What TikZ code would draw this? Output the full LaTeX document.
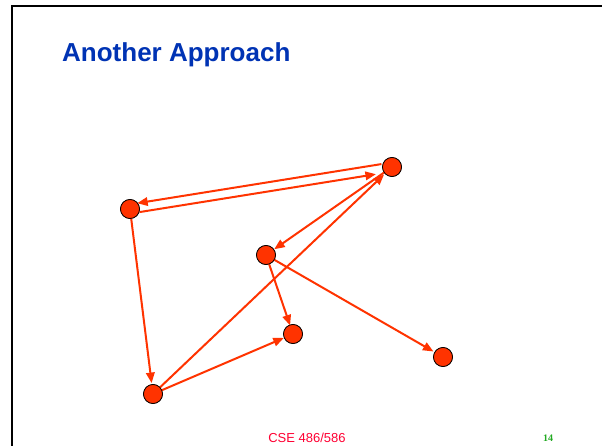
\documentclass[tikz,border=0pt]{standalone}
\usepackage{fontspec}
\setmainfont{Liberation Sans}
\newfontfamily\timesfont{Liberation Serif}
\usetikzlibrary{arrows.meta,calc}
\definecolor{nodered}{HTML}{FF3300}
\definecolor{titleblue}{HTML}{0033B4}
\definecolor{footred}{HTML}{FF0033}
\definecolor{pagegreen}{HTML}{22AA22}
\tikzset{
  vert/.style={circle,fill=nodered,draw=black,line width=0.7pt,minimum size=19pt,inner sep=0pt},
  edge/.style={draw=nodered,line width=2pt,-{Triangle[length=10.5pt,width=8.5pt]}},
}
\begin{document}
\begin{tikzpicture}[x=1pt,y=-1pt]
\useasboundingbox (0,0) rectangle (602,446);
\fill[white] (0,0) rectangle (602,446);
\draw[line width=2.5pt] (12,446) -- (12,6) -- (602,6);
\node[anchor=base west,text=titleblue,font=\fontsize{26}{30}\selectfont\bfseries,inner sep=0pt] (title) at (62,62) {Another Approach};
\node[anchor=base,text=footred,font=\fontsize{13}{15}\selectfont,inner sep=0pt] (foot) at (307,442) {CSE 486/586};
\node[anchor=base,text=pagegreen,font=\timesfont\fontsize{10}{12}\selectfont\bfseries,inner sep=0pt] (page) at (548,441) {14};
% vertices
\node[vert] (A) at (392,167) {};
\node[vert] (B) at (130,209) {};
\node[vert] (C) at (266,255) {};
\node[vert] (D) at (293,334) {};
\node[vert] (E) at (443,357) {};
\node[vert] (F) at (153,394) {};
% offset coordinates for the parallel pair
\coordinate (Au) at ($(A.center)+(-0.7,-4.5)$);
\coordinate (Bu) at ($(B.center)+(-0.7,-4.5)$);
\coordinate (Al) at ($(A.center)+(0.7,4.5)$);
\coordinate (Bl) at ($(B.center)+(0.7,4.5)$);
% edges
\draw[edge,shorten <=10pt,shorten >=8pt] (Au) -- (Bu);
\draw[edge,shorten <=9pt,shorten >=17pt] (Bl) -- (Al);
\draw[edge,shorten <=9pt,shorten >=10pt] (A.center) -- (C.center);
\draw[edge,shorten <=9pt,shorten >=11pt] (B.center) -- (F.center);
\draw[edge,shorten <=9pt,shorten >=11pt] (F.center) -- (A.center);
\draw[edge,shorten <=9pt,shorten >=9pt] (C.center) -- (D.center);
\draw[edge,shorten <=9pt,shorten >=11pt] (C.center) -- (E.center);
\draw[edge,shorten <=9pt,shorten >=10pt] (F.center) -- (D.center);
% redraw vertices on top
\node[vert] at (A) {};
\node[vert] at (B) {};
\node[vert] at (C) {};
\node[vert] at (D) {};
\node[vert] at (E) {};
\node[vert] at (F) {};
\end{tikzpicture}
\end{document}
